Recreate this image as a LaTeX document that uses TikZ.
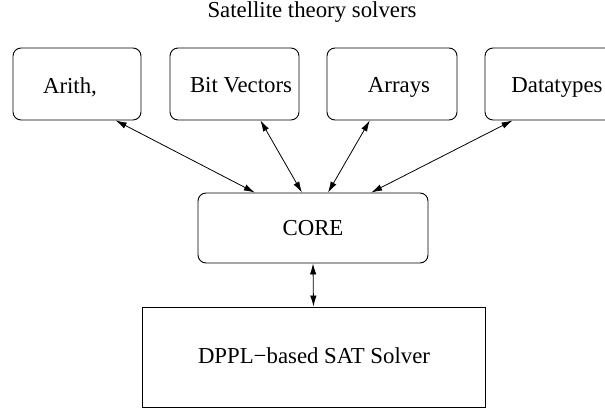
\documentclass[tikz,border=0pt]{standalone}
\usepackage{fontspec}
\setmainfont{Liberation Serif}
\usetikzlibrary{arrows.meta,calc}
\tikzset{
  solver/.style={draw, line width=0.9pt, rounded corners=8pt, minimum width=#1, minimum height=72pt, inner sep=0pt},
  corebox/.style={draw, line width=0.9pt, rounded corners=8pt, minimum width=230pt, minimum height=70pt, inner sep=0pt},
  satbox/.style={draw, line width=0.9pt, minimum width=343pt, minimum height=100pt, inner sep=0pt},
  lbl/.style={inner sep=0pt, anchor=base, font=\fontsize{22.8}{27}\selectfont},
  link/.style={line width=0.8pt, {Latex[length=11pt,width=6.5pt]}-{Latex[length=11pt,width=6.5pt]}}
}
\begin{document}
\begin{tikzpicture}[x=1pt,y=-1pt]
\useasboundingbox (0,0) rectangle (605,408);
\clip (0,0) rectangle (605,408);
\node[lbl] (title) at (312,17) {Satellite theory solvers};
\node[solver=128pt] (arith) at (77,84) {};
\node[solver=129pt] (bv) at (234.5,84) {};
\node[solver=130pt] (arr) at (392,84) {};
\node[solver=140pt] (dt) at (555,84) {};
\node[corebox] (core) at (313,228) {};
\node[satbox] (sat) at (313.5,357) {};
\node[lbl] (tarith) at (70,93) {Arith,};
\node[lbl] (tbv) at (241,92) {Bit Vectors};
\node[lbl] (tarr) at (399,92) {Arrays};
\node[lbl] (tdt) at (557,92) {Datatypes};
\node[lbl] (tcore) at (313,235) {CORE};
\node[lbl] (tsat) at (314,363) {DPPL−based SAT Solver};
\draw[link] ($(arith.south west)!0.8!(arith.south east)$) -- ($(core.north west)!0.248!(core.north east)$);
\draw[link] ($(bv.south west)!0.70!(bv.south east)$) -- ($(core.north west)!0.452!(core.north east)$);
\draw[link] ($(arr.south west)!0.33!(arr.south east)$) -- ($(core.north west)!0.565!(core.north east)$);
\draw[link] ([xshift=28pt]dt.south west) -- ($(core.north west)!0.752!(core.north east)$);
\draw[link] (core.south) -- (sat.north);
\end{tikzpicture}
\end{document}
